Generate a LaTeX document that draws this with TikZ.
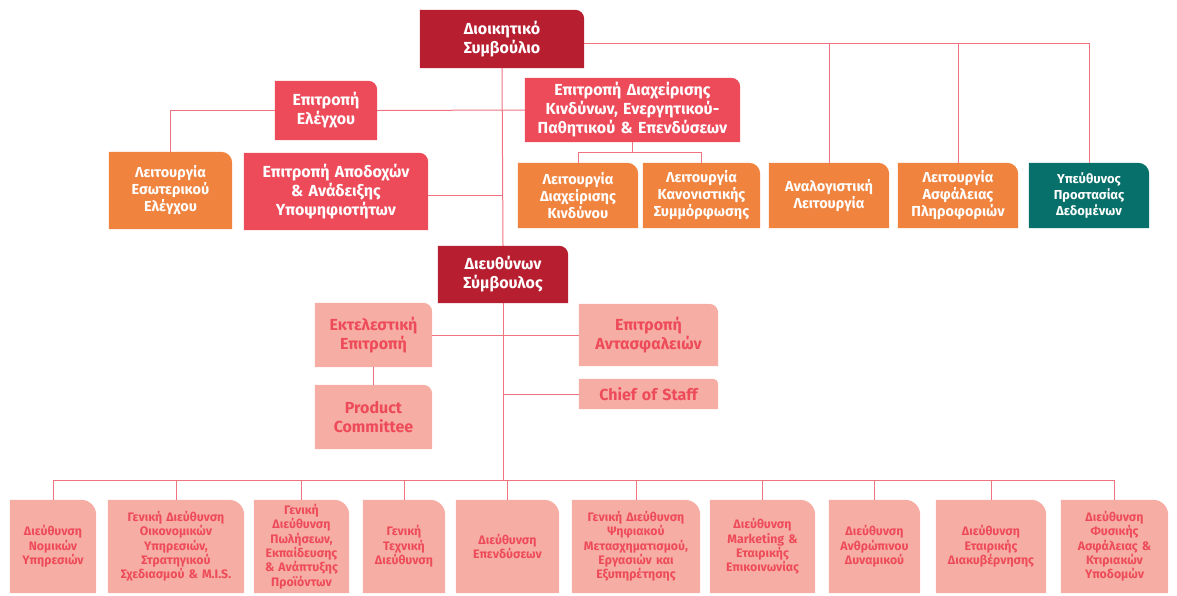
\documentclass[tikz,border=0pt]{standalone}
\usepackage{fontspec}
\setmainfont{Fira Sans}
\usetikzlibrary{backgrounds}

\definecolor{boardred}{HTML}{B71F31}
\definecolor{comred}{HTML}{EE4B5A}
\definecolor{fnorange}{HTML}{F0833E}
\definecolor{dpoteal}{HTML}{07706A}
\definecolor{mgmtpink}{HTML}{F6AEA4}
\definecolor{linkpink}{HTML}{EF7480}

\tikzset{
    card/.style 2 args={inner sep=0pt, text width=#1, minimum height=#2, align=center},
    big/.style={font=\bfseries\fontsize{16}{19}\selectfont},
    mid/.style={font=\bfseries\fontsize{14.5}{17}\selectfont},
    small/.style={font=\bfseries\fontsize{13}{16}\selectfont},
    dept/.style={font=\bfseries\fontsize{12.3}{14.3}\selectfont, text=comred},
    link/.style={draw=linkpink, line width=1pt},
}

\begin{document}
\begin{tikzpicture}[x=1pt, y=1pt]
    \useasboundingbox (0, 0) rectangle (1177, -595);

    % board and its committees
    \node[card={164}{58}, big, text=white] (board) at (502, -39) {Διοικητικό\\Συμβούλιο};
    \node[card={102}{59}, big, text=white] (audit) at (326, -110.5) {Επιτροπή\\Ελέγχου};
    \node[card={215}{64}, big, text=white] (risk) at (632.5, -110) {Επιτροπή Διαχείρισης\\Κινδύνων, Ενεργητικού-\\Παθητικού \& Επενδύσεων};
    \node[card={123}{77}, mid, text=white] (intaudit) at (170.5, -190.5) {Λειτουργία\\Εσωτερικού\\Ελέγχου};
    \node[card={184}{77}, big, text=white] (remun) at (336, -191.5) {Επιτροπή Αποδοχών\\\& Ανάδειξης\\Υποψηφιοτήτων};
    \node[card={120}{65}, mid, text=white] (riskfn) at (578, -195.5) {Λειτουργία\\Διαχείρισης\\Κινδύνου};
    \node[card={117}{65}, mid, text=white] (compl) at (701.5, -195.5) {Λειτουργία\\Κανονιστικής\\Συμμόρφωσης};
    \node[card={120}{65}, mid, text=white] (actuar) at (829, -195.5) {Αναλογιστική\\Λειτουργία};
    \node[card={120}{65}, mid, text=white] (infosec) at (958, -195.5) {Λειτουργία\\Ασφάλειας\\Πληροφοριών};
    \node[card={120}{65}, small, text=white] (dpo) at (1089, -195.5) {Υπεύθυνος\\Προστασίας\\Δεδομένων};

    % management
    \node[card={130}{57}, big, text=white] (ceo) at (503, -274.5) {Διευθύνων\\Σύμβουλος};
    \node[card={117}{64}, big, text=comred] (exec) at (373.5, -335) {Εκτελεστική\\Επιτροπή};
    \node[card={117}{64}, big, text=comred] (prod) at (373.5, -417) {Product\\Committee};
    \node[card={139}{62}, big, text=comred] (reins) at (648.5, -335) {Επιτροπή\\Αντασφαλειών};
    \node[card={139}{30}, big, text=comred] (cos) at (648.5, -394) {Chief of Staff};

    % departments
    \foreach \n/\cx/\w/\t in {
        legal/53/86/{Διεύθυνση\\Νομικών\\Υπηρεσιών},
        finance/176/136/{Γενική Διεύθυνση\\Οικονομικών\\Υπηρεσιών,\\Στρατηγικού\\Σχεδιασμού \& M.I.S.},
        sales/301.5/95/{Γενική\\Διεύθυνση\\Πωλήσεων,\\Εκπαίδευσης\\\& Ανάπτυξης\\Προϊόντων},
        tech/404/82/{Γενική\\Τεχνική\\Διεύθυνση},
        invest/507.5/103/{Διεύθυνση\\Επενδύσεων},
        digital/636/128/{Γενική Διεύθυνση\\Ψηφιακού\\Μετασχηματισμού,\\Εργασιών και\\Εξυπηρέτησης},
        mkt/762.5/105/{Διεύθυνση\\Marketing \&\\Εταιρικής\\Επικοινωνίας},
        hr/874.5/91/{Διεύθυνση\\Ανθρώπινου\\Δυναμικού},
        gov/991/110/{Διεύθυνση\\Εταιρικής\\Διακυβέρνησης},
        facil/1114.5/107/{Διεύθυνση\\Φυσικής\\Ασφάλειας \&\\Κτιριακών\\Υποδομών}}
        \node[card={\w}{93}, dept] (\n) at (\cx, -546.5) {\t};

    \coordinate (bar) at (503, -480);

    % box fills
    \begin{scope}[on background layer]
        \foreach \n/\c/\r in {board/boardred/9, audit/comred/9, risk/comred/9, remun/comred/9,
                intaudit/fnorange/11, riskfn/fnorange/11, compl/fnorange/11, actuar/fnorange/11,
                infosec/fnorange/11, dpo/dpoteal/11, ceo/boardred/9, exec/mgmtpink/9,
                prod/mgmtpink/9, reins/mgmtpink/9, cos/mgmtpink/5}
            \fill[\c] (\n.south west) -- (\n.north west) -- ([xshift=-\r]\n.north east)
                arc[start angle=90, end angle=0, radius=\r] -- (\n.south east) -- cycle;
        \foreach \n in {legal, finance, sales, tech, invest, digital, mkt, hr, gov, facil}
            \fill[mgmtpink] (\n.south west) -- (\n.north west) -- ([xshift=-15]\n.north east)
                arc[start angle=90, end angle=0, radius=15] -- (\n.south east) -- cycle;
    \end{scope}

    % connectors
    \draw[link] ([yshift=-4]board.east) -| (dpo.north);
    \draw[link] ([yshift=-4]board.east -| actuar.north) -- (actuar.north);
    \draw[link] ([yshift=-4]board.east -| infosec.north) -- (infosec.north);
    \draw[link] (board.south) -- (ceo.north);
    \draw[link] (audit.east) -- (risk.west);
    \draw[link] (audit.west) -| (intaudit.north);
    \draw[link] ([yshift=-4]remun.east) -- ([yshift=-4]remun.east -| board.south);
    \draw[link] (risk.south) -- ++(0, -10) -| (riskfn.north);
    \draw[link] (risk.south) ++(0, -10) -| (compl.north);

    \draw[link] (ceo.south) -- (bar);
    \draw[link] (exec.east) -- (reins.west);
    \draw[link] (exec.south) -- (prod.north);
    \draw[link] (cos.west) -- (cos.west -| ceo.south);

    \draw[link] (bar -| legal.north) -- (bar -| facil.north);
    \foreach \n in {legal, finance, sales, tech, invest, digital, mkt, hr, gov, facil}
        \draw[link] (bar -| \n.north) -- (\n.north);
\end{tikzpicture}
\end{document}
